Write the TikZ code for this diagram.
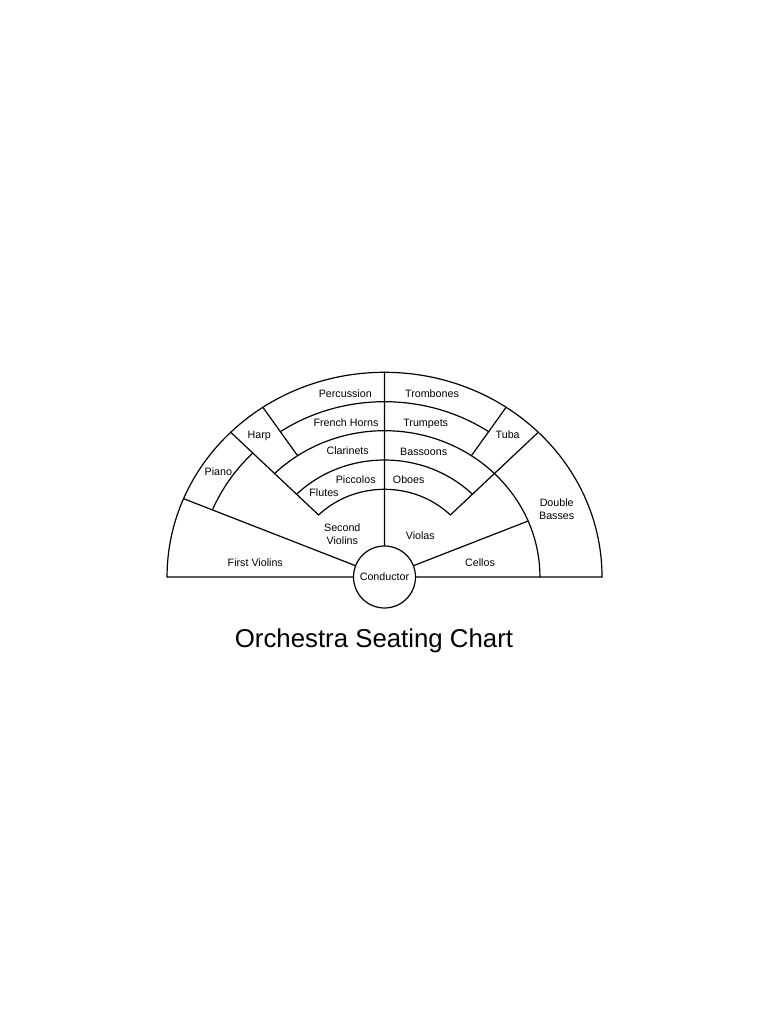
\documentclass[tikz,border=0pt]{standalone}
\usepackage{fontspec}
\setmainfont{Liberation Sans}
\begin{document}
\begin{tikzpicture}[x=1pt, y=1pt, line width=1.2pt, line join=round,
			line cap=round,
			lab/.style={font=\fontsize{10.7}{12.7}\selectfont, inner sep=0pt,
				text height=7.7pt, text depth=0pt},
			lab2/.style={font=\fontsize{10.7}{12.7}\selectfont, inner sep=0pt,
				align=center}]
			\useasboundingbox (-384.5,-447) rectangle (383.5,577);
			\def\ra{87.7}
			\def\rb{117}
			\def\rc{146.3}
			\def\rd{175.3}
			\def\re{204.7}
			% rings of seats, slightly wider than high
			\begin{scope}[xscale=1.0625]
			\path (0,0) coordinate (O)
			(180:\re) coordinate (L)
			(0:\re) coordinate (R)
			(90:\re) coordinate (T)
			(157.5:\re) coordinate (FV)
			(22.5:\rc) coordinate (CE)
			;
			\draw (R) arc[start angle=0, end angle=180, radius=\re]
			(0:\rc) arc[start angle=0, end angle=135, radius=\rc]
			(56:\rd) arc[start angle=56, end angle=124, radius=\rd]
			(135:\rd) arc[start angle=135, end angle=157.5, radius=\rd]
			(45:\rb) arc[start angle=45, end angle=135, radius=\rb]
			(45:\ra) arc[start angle=45, end angle=135, radius=\ra]
			;
			\draw (135:\ra)--(135:\re) (45:\ra)--(45:\re)
			(124:\rc)--(124:\re) (56:\rc)--(56:\re)
			;
			\end{scope}
			\node[draw, circle, minimum size=62pt, inner sep=0pt,
				font=\fontsize{10.7}{12.7}\selectfont] (cond) at (O) {Conductor};
			\draw (L)--(cond)--(R) (cond)--(T) (cond)--(FV) (cond)--(CE);
			\foreach \t/\x/\y [count=\i] in {Percussion/-39.2/183, Trombones/47.5/183,
				French Horns/-38.5/154.3, Trumpets/41.2/154.3, Harp/-125.2/142.7,
				Tuba/123.2/142.7, Clarinets/-36.8/126, Bassoons/39.2/125.3,
				Piano/-166.2/105.3, Piccolos/-28.8/97.7, Oboes/24.2/97.7,
				Flutes/-60.5/84.3, Violas/35.8/41.7, First Violins/-129.2/14.7,
				Cellos/95.5/14.7}
			\node[lab] (lab\i) at (\x,\y) {\t};
			\node[lab2] (db) at (172.2,68) {Double\\Basses};
			\node[lab2] (sv) at (-42.2,42.5) {Second\\Violins};
			\node[font=\fontsize{25.8}{30}\selectfont, anchor=base, inner sep=0pt]
				(title) at (-10.5,-70.7) {Orchestra Seating Chart};
		\end{tikzpicture}
\end{document}
